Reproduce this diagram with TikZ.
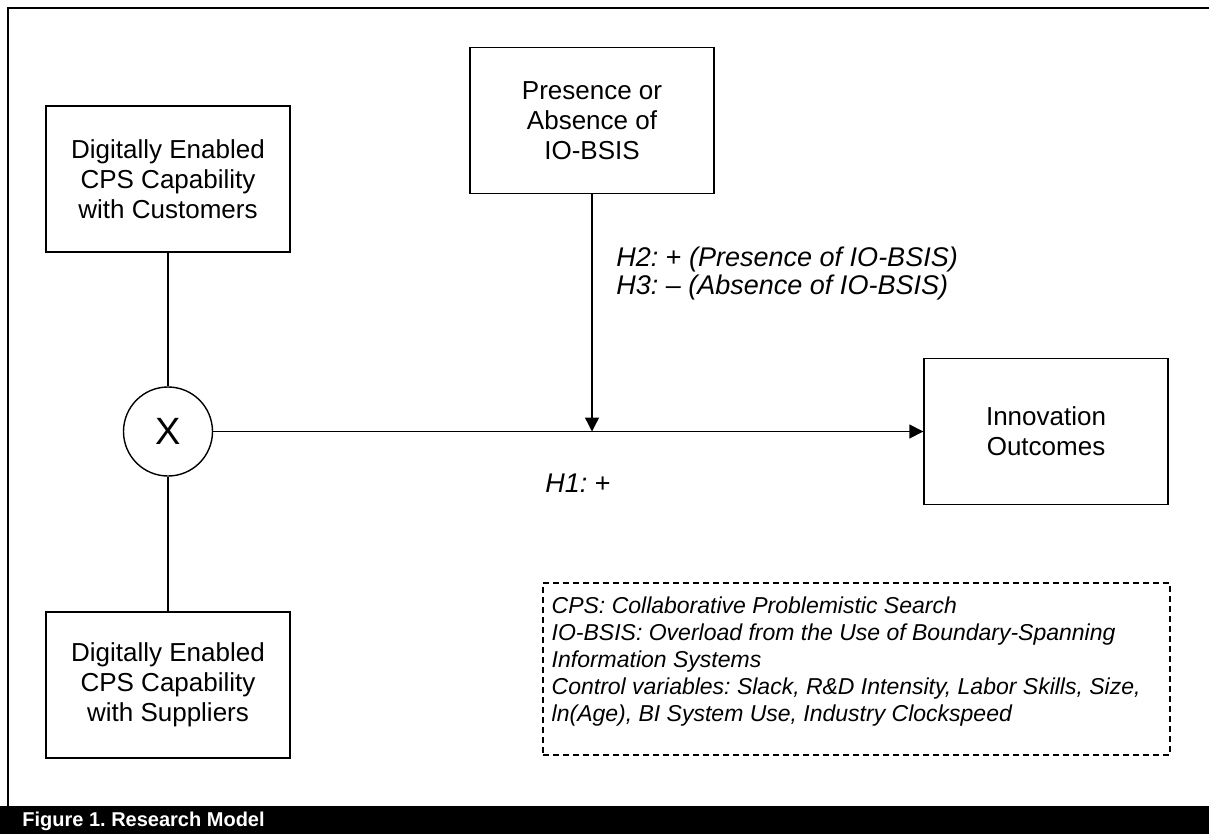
\documentclass[tikz,border=0pt]{standalone}
\usepackage{fontspec}
\setmainfont{Liberation Sans}
\usetikzlibrary{arrows.meta}
\frenchspacing

\begin{document}
\begin{tikzpicture}[
        x=0.5pt, y=-0.5pt,
        every node/.style={font=\fontsize{13}{15}\selectfont},
        construct/.style={draw, line width=0.7pt, minimum width=122pt,
                          minimum height=73pt, align=center, inner sep=2pt},
        mixer/.style={draw, circle, line width=0.7pt, minimum size=44.5pt,
                      inner sep=0pt, font=\fontsize{19}{19}\selectfont},
        link/.style={draw, line width=0.7pt},
        effect/.style={link, -{Triangle[length=7pt, width=7pt]}},
        hypo/.style={font=\itshape\fontsize{13.5}{14}\selectfont, align=left,
                     inner sep=0pt},
        legend/.style={draw, dashed, dash pattern=on 3pt off 2pt,
                       line width=0.7pt, minimum width=313.5pt,
                       minimum height=86pt},
        legendtext/.style={align=flush left, inner sep=0pt,
                           font=\itshape\fontsize{11.5}{13.5}\selectfont}
    ]
        \useasboundingbox (0,0) rectangle (1209,834);

        % frame and caption bar
        \draw[line width=1pt] (1209,8) -- (8,8) -- (8,806);
        \fill (0,806) rectangle (1209,834);
        \node[anchor=base west, text=white, inner sep=0pt,
              font=\bfseries\fontsize{10}{12}\selectfont] (caption)
            at (22,826) {Figure 1. Research Model};

        \node[construct] (cust)  at (168,179)    {Digitally Enabled\\CPS Capability\\with Customers};
        \node[construct] (supp)  at (168,685)    {Digitally Enabled\\CPS Capability\\with Suppliers};
        \node[construct] (bsis)  at (592,120.5)  {Presence or\\Absence of\\IO-BSIS};
        \node[construct] (innov) at (1046,431.5) {Innovation\\Outcomes};
        \node[mixer]     (cross) at (168,431.5)  {X};

        \draw[link] (cust) -- (cross);
        \draw[link] (cross) -- (supp);
        \draw[effect] (cross) -- (innov);
        \draw[effect] (bsis) -- (bsis |- cross);

        \node[hypo, anchor=west] (h23) at (616,274)
            {H2: \upshape+\itshape{} (Presence of IO-BSIS)\\H3: \upshape--\itshape{} (Absence of IO-BSIS)};
        \node[hypo] (h1) at (578,483) {H1: \upshape+};

        \node[legend] (key) at (856.5,669) {};
        \node[legendtext, anchor=north west] (keytext)
            at ([xshift=4.5pt, yshift=-7pt]key.north west)
            {CPS: Collaborative Problemistic Search\\
            IO-BSIS: Overload from the Use of Boundary-Spanning\\
            Information Systems\\
            Control variables: Slack, R\&D Intensity, Labor Skills, Size,\\
            ln(Age), BI System Use, Industry Clockspeed};
    \end{tikzpicture}
\end{document}
